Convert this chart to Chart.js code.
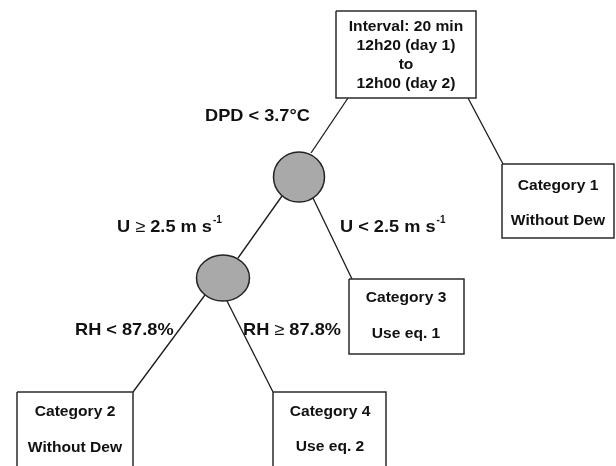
<!DOCTYPE html>
<html>
<head>
<meta charset="utf-8">
<script src="https://cdn.jsdelivr.net/npm/chart.js@4.4.0/dist/chart.umd.min.js"></script>
<style>
body { margin: 0; background: #fff; }
canvas { display: block; }
</style>
</head>
<body>
<canvas id="tree" width="616" height="466"></canvas>
<script>
// Decision tree: boxes (leaves + root), split nodes, edges, labels
// all coordinates are in diagram units, mapped through the chart's x / y scales

// rectangles: left, top, right, bottom
var boxLeft   = [336, 502, 349, 17, 273];
var boxTop    = [11, 164, 279, 392, 392];
var boxRight  = [476, 614, 464, 133, 386];
var boxBottom = [98, 238, 354, 480, 480];

// split nodes (grey ellipses)
var nodeX  = [299, 223];
var nodeY  = [177, 278];
var nodeRx = [25.5, 26.5];
var nodeRy = [25, 23];

// edges: from -> to
var edgeX1 = [348, 468, 282, 313, 205, 226];
var edgeY1 = [98, 98, 196, 198, 295, 299];
var edgeX2 = [311, 503, 238, 352, 133, 273];
var edgeY2 = [153, 164, 258, 279, 392, 392];

// text inside boxes
var boxText  = ['Interval: 20 min', '12h20 (day 1)', 'to', '12h00 (day 2)',
                'Category 1', 'Without Dew',
                'Category 3', 'Use eq. 1',
                'Category 2', 'Without Dew',
                'Category 4', 'Use eq. 2'];
var boxTextX = [406, 406, 406, 406, 558, 558, 406, 406, 75, 75, 330, 330];
var boxTextY = [27, 46, 65, 84, 186, 221, 298, 334, 412, 448, 412, 447];

// split conditions (left edge of text)
var condText = ['DPD < 3.7°C', 'U \u2265 2.5 m s', 'U < 2.5 m s', 'RH < 87.8%', 'RH \u2265 87.8%'];
var condSup  = ['', '-1', '-1', '', ''];
var condX    = [205, 117, 340, 75, 243];
var condY    = [116, 227, 227, 330, 330];

var datasets = [];
for (var i = 0; i < boxLeft.length; i++) {
    datasets.push({
        data: [
            {x: boxLeft[i], y: boxTop[i]},
            {x: boxRight[i], y: boxTop[i]},
            {x: boxRight[i], y: boxBottom[i]},
            {x: boxLeft[i], y: boxBottom[i]},
            {x: boxLeft[i], y: boxTop[i]}
        ],
        showLine: true,
        borderColor: '#2b2b2b',
        borderWidth: 1.5,
        pointRadius: 0,
        fill: false
    });
}
for (var j = 0; j < edgeX1.length; j++) {
    datasets.push({
        data: [{x: edgeX1[j], y: edgeY1[j]}, {x: edgeX2[j], y: edgeY2[j]}],
        showLine: true,
        borderColor: '#1a1a1a',
        borderWidth: 1.3,
        pointRadius: 0,
        fill: false
    });
}

var FONT = '"Liberation Sans", Arial, sans-serif';

// draws text left-aligned, stretched horizontally; the >= sign in normal weight
function stretchedText(ctx, str, x, y, size, stretch) {
    ctx.save();
    ctx.translate(x, y);
    ctx.scale(stretch, 1);
    var parts = str.split('\u2265');
    var pos = 0;
    for (var p = 0; p < parts.length; p++) {
        ctx.font = 'bold ' + size + 'px ' + FONT;
        ctx.fillText(parts[p], pos, 0);
        pos += ctx.measureText(parts[p]).width;
        if (p < parts.length - 1) {
            ctx.font = size + 'px ' + FONT;
            ctx.fillText('\u2265', pos, 0);
            pos += ctx.measureText('\u2265').width;
        }
    }
    ctx.restore();
    return pos * stretch;
}

var treeDrawing = {
    id: 'treeDrawing',
    afterDatasetsDraw: function(chart) {
        var ctx = chart.ctx;
        var xs = chart.scales.x, ys = chart.scales.y;
        ctx.save();
        // split nodes
        for (var i = 0; i < nodeX.length; i++) {
            var cx = xs.getPixelForValue(nodeX[i]);
            var cy = ys.getPixelForValue(nodeY[i]);
            var rx = xs.getPixelForValue(nodeX[i] + nodeRx[i]) - cx;
            var ry = ys.getPixelForValue(nodeY[i] + nodeRy[i]) - cy;
            ctx.beginPath();
            ctx.ellipse(cx, cy, Math.abs(rx), Math.abs(ry), 0, 0, Math.PI * 2);
            ctx.fillStyle = '#a9a9a9';
            ctx.fill();
            ctx.lineWidth = 1.5;
            ctx.strokeStyle = '#222';
            ctx.stroke();
        }
        ctx.fillStyle = '#111';
        ctx.textBaseline = 'middle';
        // box text, centred
        ctx.textAlign = 'left';
        for (var k = 0; k < boxText.length; k++) {
            ctx.font = 'bold 15px ' + FONT;
            var w = ctx.measureText(boxText[k]).width * 1.04;
            stretchedText(ctx, boxText[k], xs.getPixelForValue(boxTextX[k]) - w / 2,
                          ys.getPixelForValue(boxTextY[k]), 15, 1.04);
        }
        // split conditions
        for (var m = 0; m < condText.length; m++) {
            var tx = xs.getPixelForValue(condX[m]);
            var ty = ys.getPixelForValue(condY[m]);
            var tw = stretchedText(ctx, condText[m], tx, ty, 17, 1.07);
            if (condSup[m]) {
                ctx.font = 'bold 10px ' + FONT;
                ctx.fillText(condSup[m], tx + tw + 1, ty - 7);
            }
        }
        ctx.restore();
    }
};

var chart = new Chart(document.getElementById('tree').getContext('2d'), {
    type: 'scatter',
    data: { datasets: datasets },
    options: {
        responsive: false,
        animation: false,
        devicePixelRatio: 1,
        layout: { padding: 0 },
        plugins: {
            legend: { display: false },
            tooltip: { enabled: false }
        },
        scales: {
            x: { type: 'linear', min: 0, max: 616, display: false },
            y: { type: 'linear', min: 0, max: 466, reverse: true, display: false }
        }
    },
    plugins: [treeDrawing]
});
</script>
</body>
</html>
